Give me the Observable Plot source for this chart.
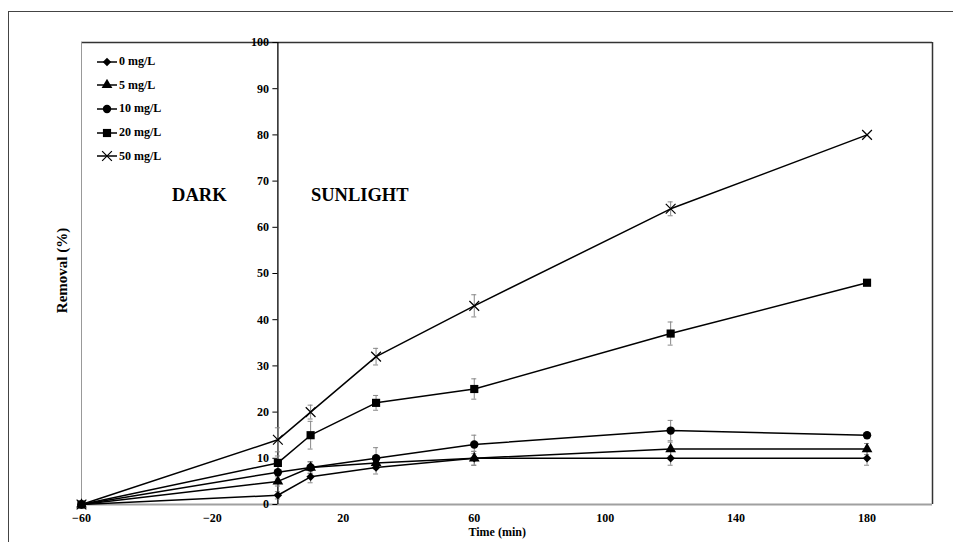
<!DOCTYPE html>
<html><head><meta charset="utf-8">
<script src="https://cdn.jsdelivr.net/npm/d3@7"></script>
<script src="https://cdn.jsdelivr.net/npm/@observablehq/plot@0.6"></script>
<style>
body{margin:0;background:#fff;font-family:"Liberation Serif","Times New Roman",serif;}
#wrap{position:relative;width:953px;height:542px;overflow:hidden;}
#outer{position:absolute;left:8px;top:11px;width:1020px;height:600px;border:1.5px solid #444;box-sizing:border-box;pointer-events:none;}
#legend{position:absolute;left:96px;top:50px;font-weight:bold;font-size:12px;color:#000;}
.row{display:flex;align-items:center;height:23.6px;}
.row svg{display:block;margin-right:1px;}
</style></head>
<body>
<div id="wrap"><div id="chart"></div><div id="outer"></div><div id="legend"></div></div>
<script>
const times = [-60, 0, 10, 30, 60, 120, 180];
const seriesNames = ["0 mg/L", "5 mg/L", "10 mg/L", "20 mg/L", "50 mg/L"];
const r0  = [0, 2, 6, 8, 10, 10, 10];
const r5  = [0, 5, 8, 9, 10, 12, 12];
const r10 = [0, 7, 8, 10, 13, 16, 15];
const r20 = [0, 9, 15, 22, 25, 37, 48];
const r50 = [0, 14, 20, 32, 43, 64, 80];
const e0  = [0, 0.8, 1.3, 1.4, 1.5, 1.5, 1.5];
const e5  = [0, 1.0, 1.2, 1.3, 1.5, 1.5, 1.2];
const e10 = [0, 1.5, 1.3, 2.3, 2.0, 2.2, 0];
const e20 = [0, 1.5, 3.0, 1.6, 2.2, 2.5, 0];
const e50 = [0, 2.6, 1.5, 1.8, 2.4, 1.5, 0];
const xTicks = [-60, -20, 20, 60, 100, 140, 180];
const yTicks = [0, 10, 20, 30, 40, 50, 60, 70, 80, 90, 100];
const annotations = [{t: -24, v: 67, label: "DARK"}, {t: 25, v: 67, label: "SUNLIGHT"}];

const symbols = ["diamond2", "triangle", "circle", "square", "times"];
const radii = [3.8, 4, 4.2, 4.6, 4.5];
const values = [r0, r5, r10, r20, r50];
const errors = [e0, e5, e10, e20, e50];

const series = seriesNames.map((name, k) => ({name, symbol: symbols[k], r: radii[k], values: values[k], err: errors[k]}));
const data = series.flatMap(s => times.map((t, i) => ({series: s.name, t, v: s.values[i], e: s.err[i]})));
const errs = data.filter(d => d.e > 0);

const font = "'Liberation Serif', 'Times New Roman', serif";

const chart = Plot.plot({
  width: 953,
  height: 542,
  marginLeft: 81,
  marginRight: 21,
  marginTop: 42,
  marginBottom: 38,
  style: {fontFamily: font, fontSize: "12px", fontWeight: "bold", background: "white", color: "black"},
  x: {domain: [-60, 200], ticks: xTicks, tickSize: 0, tickPadding: 9, label: null},
  y: {domain: [0, 100], axis: null},
  marks: [
    Plot.ruleY([100], {stroke: "#333", strokeWidth: 1.5}),
    Plot.ruleX([200], {stroke: "#333", strokeWidth: 1.5}),
    Plot.ruleX([-60], {stroke: "#999", strokeWidth: 1}),
    Plot.ruleY([0], {stroke: "#a0a0a0", strokeWidth: 2}),
    Plot.ruleX([0], {y1: 0, y2: 100, stroke: "black", strokeWidth: 1.3}),
    Plot.ruleY(yTicks, {y: d => d, x1: 0, x2: 0, insetLeft: -5, stroke: "black", strokeWidth: 1}),
    Plot.text(yTicks, {x: 0, y: d => d, text: d => String(d), dx: -9, textAnchor: "end", fontWeight: "bold", fontSize: 12}),
    Plot.ruleX(errs, {x: "t", y1: d => d.v - d.e, y2: d => d.v + d.e, stroke: "#888", strokeWidth: 1}),
    Plot.ruleY(errs, {y: d => d.v + d.e, x1: "t", x2: "t", insetLeft: -2.5, insetRight: -2.5, stroke: "#888", strokeWidth: 1}),
    Plot.ruleY(errs, {y: d => d.v - d.e, x1: "t", x2: "t", insetLeft: -2.5, insetRight: -2.5, stroke: "#888", strokeWidth: 1}),
    Plot.line(data, {x: "t", y: "v", z: "series", stroke: "black", strokeWidth: 1.5}),
    ...series.map(s => s.symbol === "times"
      ? Plot.dot(data.filter(d => d.series === s.name), {x: "t", y: "v", symbol: s.symbol, r: s.r, stroke: "black", strokeWidth: 1.2, fill: "none"})
      : Plot.dot(data.filter(d => d.series === s.name), {x: "t", y: "v", symbol: s.symbol, r: s.r, fill: "black", stroke: "none"})),
    Plot.text(annotations, {x: "t", y: "v", text: "label", fontSize: 18.5, fontWeight: "bold", fill: "black"}),
    Plot.text(["Removal (%)"], {frameAnchor: "left", textAnchor: "middle", dx: -19, dy: -3, rotate: -90, fontSize: 15, fontWeight: "bold", fill: "black"}),
    Plot.text(["Time (min)"], {x: 67, frameAnchor: "bottom", textAnchor: "middle", dy: 31, fontSize: 12, fontWeight: "bold", fill: "black"})
  ]
});
document.getElementById("chart").appendChild(chart);

// legend
const symMap = {diamond2: d3.symbolDiamond2, triangle: d3.symbolTriangle, circle: d3.symbolCircle, square: d3.symbolSquare, times: d3.symbolTimes};
const legend = d3.select("#legend");
series.forEach(s => {
  const row = legend.append("div").attr("class", "row");
  const svg = row.append("svg").attr("width", 22).attr("height", 12);
  svg.append("line").attr("x1", 1).attr("x2", 21).attr("y1", 6).attr("y2", 6).attr("stroke", "black").attr("stroke-width", 1.5);
  const path = d3.symbol(symMap[s.symbol], Math.PI * s.r * s.r)();
  const p = svg.append("path").attr("d", path).attr("transform", "translate(11,6)");
  if (s.symbol === "times") p.attr("fill", "none").attr("stroke", "black").attr("stroke-width", 1.2);
  else p.attr("fill", "black");
  row.append("span").text(s.name);
});
</script>
</body></html>
